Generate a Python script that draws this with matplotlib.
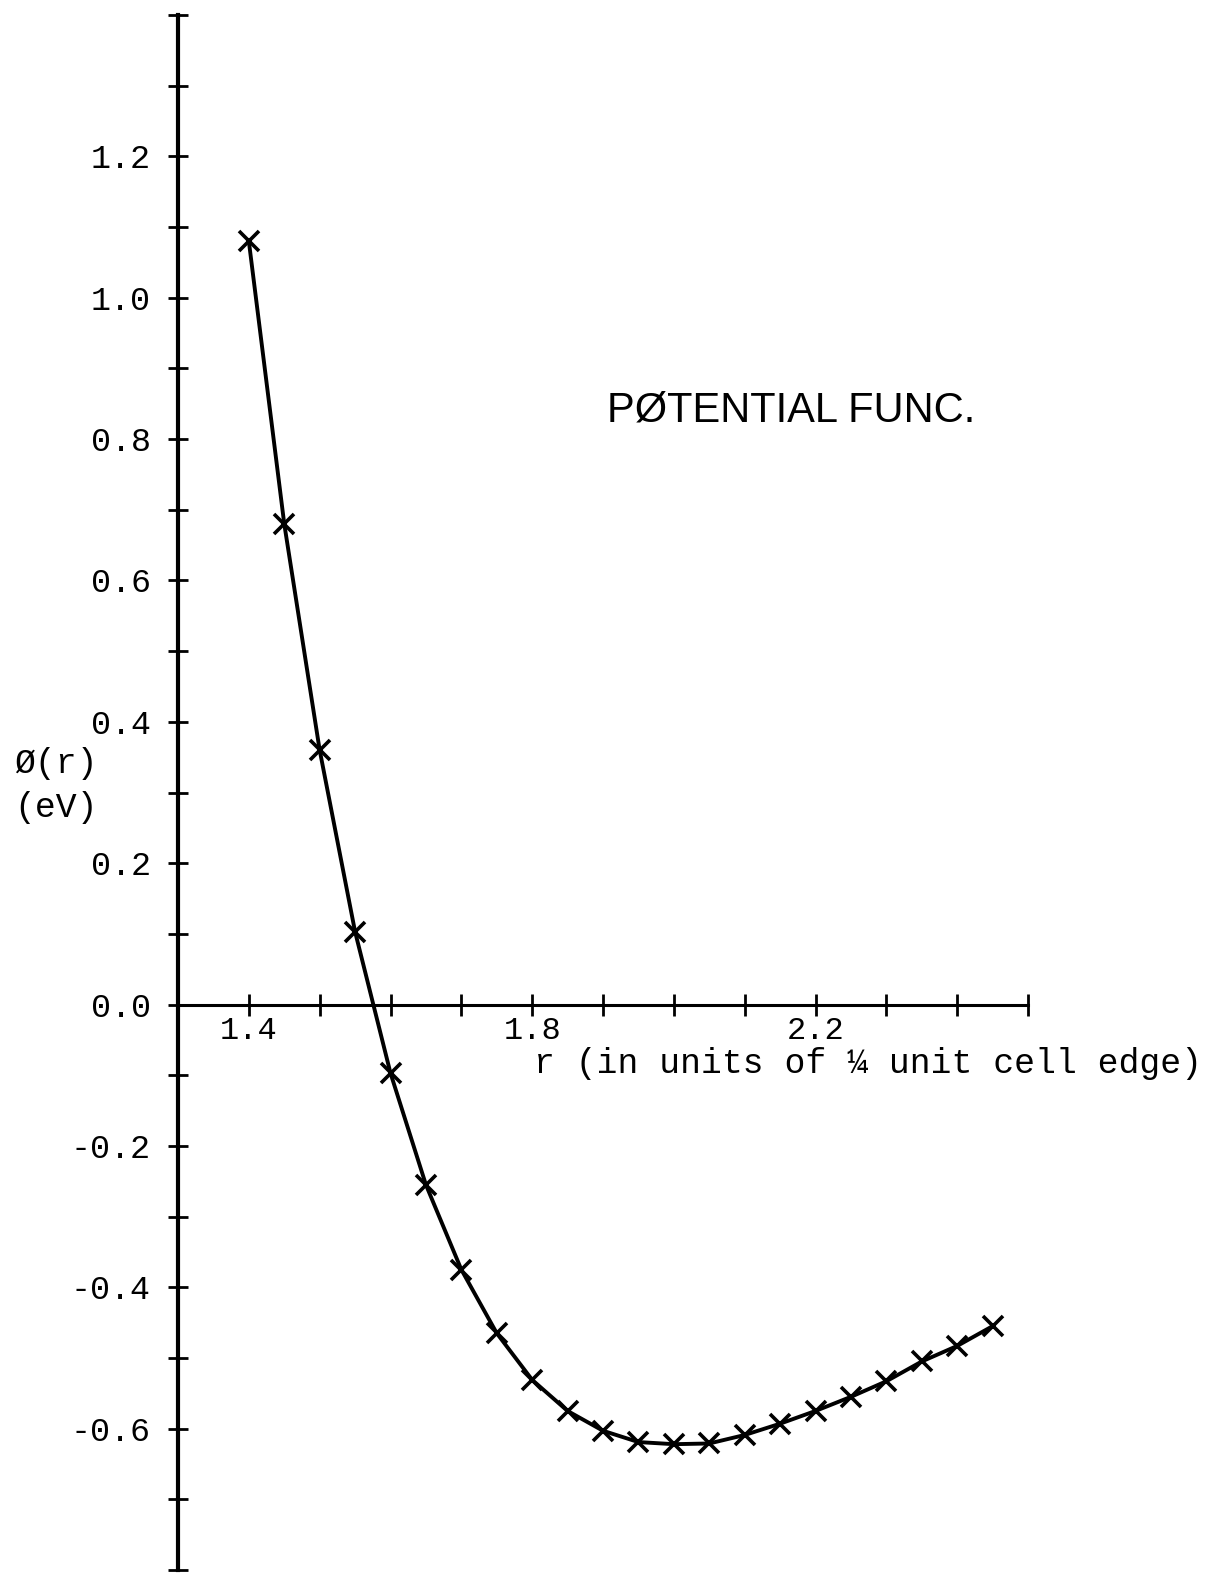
import matplotlib.pyplot as plt
import numpy as np

# pair potential phi(r), r in units of 1/4 unit cell edge
r = [1.40, 1.45, 1.50, 1.55, 1.60, 1.65, 1.70, 1.75, 1.80, 1.85, 1.90,
     1.95, 2.00, 2.05, 2.10, 2.15, 2.20, 2.25, 2.30, 2.35, 2.40, 2.45]
phi = [1.08, 0.68, 0.36, 0.103, -0.097, -0.255, -0.375, -0.465, -0.531,
       -0.575, -0.603, -0.619, -0.622, -0.621, -0.609, -0.593, -0.575,
       -0.555, -0.533, -0.505, -0.483, -0.455]

x_labels = {1.4: "1.4", 1.8: "1.8", 2.2: "2.2"}
y_labels = {1.2: "1.2", 1.0: "1.0", 0.8: "0.8", 0.6: "0.6", 0.4: "0.4",
            0.2: "0.2", 0.0: "0.0", -0.2: "-0.2", -0.4: "-0.4", -0.6: "-0.6"}

mono = "Liberation Mono"

fig = plt.figure(figsize=(12.16, 15.74), dpi=100)
ax = fig.add_axes([178 / 1216, 4 / 1574, 850 / 1216, 1555 / 1574])
ax.set_xlim(1.3, 2.5)
ax.set_ylim(-0.8, 1.4)

ax.plot(r, phi, color="black", lw=2.8, marker="x", ms=14, mew=2.6)

# axes drawn through the origin like a hand plot
ax.spines["top"].set_visible(False)
ax.spines["right"].set_visible(False)
ax.spines["bottom"].set_position(("data", 0))
ax.spines["left"].set_linewidth(3.0)
ax.spines["bottom"].set_linewidth(2.2)

xt = np.round(np.arange(1.3, 2.51, 0.1), 2)
yt = np.round(np.arange(-0.8, 1.41, 0.1), 2)
ax.set_xticks(xt, [x_labels.get(v, "") for v in xt])
ax.set_yticks(yt, [y_labels.get(v, "") for v in yt])
ax.tick_params(axis="x", direction="inout", length=16, width=2, pad=0,
               labelsize=23)
ax.tick_params(axis="y", direction="inout", length=15, width=2, pad=12,
               labelsize=24)
for lab in ax.get_xticklabels() + ax.get_yticklabels():
    lab.set_family(mono)

ax.text(1.803, -0.083, "r (in units of \u00bc unit cell edge)",
        family=mono, fontsize=25, ha="left", va="center")
fig.text(14 / 1216, 1 - 763 / 1574, "\u00d8(r)", family=mono,
         fontsize=25, ha="left", va="center")
fig.text(14 / 1216, 1 - 808 / 1574, "(eV)", family=mono,
         fontsize=25, ha="left", va="center")
ax.text(1.905, 0.84, "P\u00d8TENTIAL FUNC.", family="Liberation Sans",
        fontsize=30, ha="left", va="center")

fig.savefig("out.png", dpi=100, facecolor="white")
plt.close(fig)
